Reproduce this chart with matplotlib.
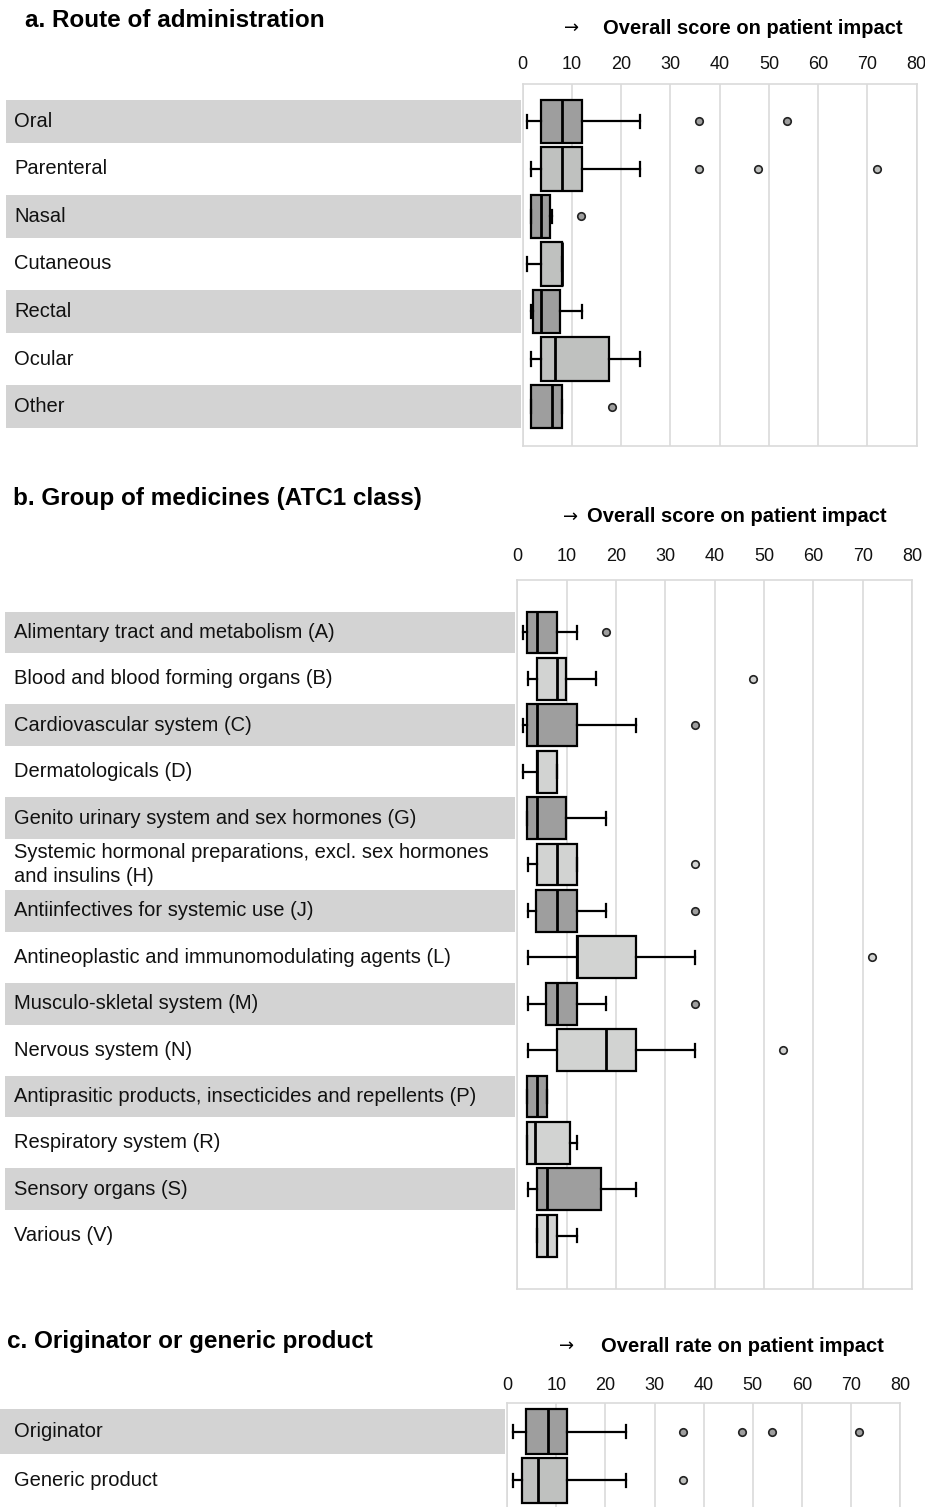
import matplotlib
matplotlib.use('Agg')
import matplotlib.pyplot as plt

plt.rcParams['font.family'] = ['Liberation Sans', 'DejaVu Sans']

# ---------------- data ----------------
route_labels = ['Oral', 'Parenteral', 'Nasal', 'Cutaneous', 'Rectal', 'Ocular', 'Other']
route_whislo = [0.8, 1.7, 1.6, 0.8, 1.7, 1.7, 1.6]
route_q1 = [3.65, 3.65, 1.6, 3.65, 2.0, 3.65, 1.6]
route_med = [8.0, 8.0, 3.65, 8.0, 3.65, 6.6, 5.9]
route_q3 = [12.0, 12.0, 5.6, 8.0, 7.6, 17.5, 8.0]
route_whishi = [23.8, 23.8, 5.9, 8.0, 12.0, 23.8, 8.0]
route_fliers = [[35.8, 53.6], [35.8, 47.8, 71.9], [11.8], [], [], [], [18.1]]

atc_labels = ['Alimentary tract and metabolism (A)',
              'Blood and blood forming organs (B)',
              'Cardiovascular system (C)',
              'Dermatologicals (D)',
              'Genito urinary system and sex hormones (G)',
              'Systemic hormonal preparations, excl. sex hormones\nand insulins (H)',
              'Antiinfectives for systemic use (J)',
              'Antineoplastic and immunomodulating agents (L)',
              'Musculo-skletal system (M)',
              'Nervous system (N)',
              'Antiprasitic products, insecticides and repellents (P)',
              'Respiratory system (R)',
              'Sensory organs (S)',
              'Various (V)']
atc_whislo = [1.1, 2.2, 1.1, 1.1, 2.0, 2.2, 2.2, 2.2, 2.2, 2.2, 2.0, 2.0, 2.2, 3.9]
atc_q1 = [2.0, 3.9, 2.0, 3.9, 2.0, 3.9, 3.8, 12.1, 5.9, 8.0, 2.0, 2.0, 3.9, 3.9]
atc_med = [3.9, 8.1, 3.9, 3.9, 3.9, 8.1, 8.1, 12.1, 8.1, 18.0, 3.9, 3.5, 6.0, 6.0]
atc_q3 = [8.1, 9.9, 12.2, 8.1, 9.9, 12.2, 12.2, 24.1, 12.2, 24.1, 6.1, 10.7, 17.0, 8.1]
atc_whishi = [12.2, 15.9, 24.1, 8.1, 18.0, 12.2, 18.0, 36.0, 18.0, 36.0, 6.1, 12.1, 24.1, 12.1]
atc_fliers = [[18.0], [47.8], [36.0], [], [], [36.0], [36.0], [71.8], [36.0], [53.8], [], [], [], []]

origin_labels = ['Originator', 'Generic product']
origin_whislo = [1.1, 1.1]
origin_q1 = [3.9, 2.9]
origin_med = [8.2, 6.3]
origin_q3 = [12.2, 12.2]
origin_whishi = [24.2, 24.2]
origin_fliers = [[35.7, 47.9, 54.0, 71.7], [35.7]]

xticks = [0, 10, 20, 30, 40, 50, 60, 70, 80]

# ---------------- style ----------------
DARK = '#9e9e9e'
BAND = '#d3d3d3'
GRID = '#dadada'

W, H = 925, 1507
fig = plt.figure(figsize=(W / 100, H / 100), dpi=100)


def rect(x0, y0, x1, y1):
    return [x0 / W, 1 - y1 / H, (x1 - x0) / W, (y1 - y0) / H]


def panel(box_px, band_x0, band_x1, ylim, labels, whislo, q1, med, q3, whishi,
          fliers, light, width, tick_pad):
    x0, y0, x1, y1 = box_px
    # label column with shaded bands
    axl = fig.add_axes(rect(0, y0, band_x1, y1))
    axl.set_xlim(0, band_x1)
    axl.set_ylim(*ylim)
    axl.axis('off')
    n = len(labels)
    for i in range(n):
        if i % 2 == 0:
            axl.barh(i, band_x1 - band_x0, left=band_x0, height=width,
                     color=BAND, linewidth=0)
        axl.text(14, i, labels[i], ha='left', va='center', fontsize=14.5,
                 linespacing=1.3, color='#111111')

    ax = fig.add_axes(rect(x0, y0, x1, y1))
    stats = []
    for i in range(n):
        stats.append(dict(whislo=whislo[i], q1=q1[i], med=med[i], q3=q3[i],
                          whishi=whishi[i], fliers=fliers[i]))
    res = ax.bxp(stats, positions=list(range(n)), widths=width,
                 orientation='horizontal', patch_artist=True,
                 capwidths=0.28,
                 boxprops=dict(edgecolor='black', linewidth=1.6),
                 medianprops=dict(color='black', linewidth=2.0),
                 whiskerprops=dict(color='black', linewidth=1.6),
                 capprops=dict(color='black', linewidth=1.6),
                 flierprops=dict(marker='o', markersize=5.4,
                                 markeredgecolor='#222222',
                                 markeredgewidth=1.2))
    for i in range(n):
        c = DARK if i % 2 == 0 else light
        res['boxes'][i].set_facecolor(c)
        res['fliers'][i].set_markerfacecolor(c)
    ax.set_xlim(0, 80)
    ax.set_ylim(*ylim)
    ax.set_yticks([])
    ax.set_xticks(xticks)
    ax.xaxis.set_ticks_position('top')
    ax.tick_params(axis='x', length=0, pad=tick_pad, labelsize=13,
                   labelcolor='#111111')
    ax.grid(axis='x', color=GRID, linewidth=1.2)
    ax.set_axisbelow(True)
    for s in ax.spines.values():
        s.set_color(GRID)
        s.set_linewidth(1.2)
    return ax


ARROW_FONT = ['DejaVu Sans']

# ---- panel a ----
panel((522.7, 84.3, 916.7, 446.0), 6, 520.7, (6.83, -0.78), route_labels,
      route_whislo, route_q1, route_med, route_q3, route_whishi, route_fliers,
      '#bfc1bf', 0.92, 8.0)
fig.text(25 / W, 1 - 20.5 / H, 'a. Route of administration', ha='left',
         va='center', fontsize=17.5, fontweight='bold')
fig.text(572 / W, 1 - 28 / H, '\u2192', ha='center', va='center', fontsize=13,
         family=ARROW_FONT)
fig.text(603 / W, 1 - 28.3 / H, 'Overall score on patient impact', ha='left',
         va='center', fontsize=14.5, fontweight='bold')

# ---- panel b ----
panel((517.3, 580.0, 912.0, 1289.0), 5, 515, (14.15, -1.13), atc_labels,
      atc_whislo, atc_q1, atc_med, atc_q3, atc_whishi, atc_fliers,
      '#d2d3d2', 0.9, 10.7)
fig.text(12.7 / W, 1 - 498 / H, 'b. Group of medicines (ATC1 class)', ha='left',
         va='center', fontsize=17.5, fontweight='bold')
fig.text(571 / W, 1 - 517 / H, '\u2192', ha='center', va='center', fontsize=13,
         family=ARROW_FONT)
fig.text(587 / W, 1 - 517 / H, 'Overall score on patient impact', ha='left',
         va='center', fontsize=14.5, fontweight='bold')

# ---- panel c ----
panel((507.3, 1403.3, 900.0, 1607.0), 0, 505, (3.59, -0.58), origin_labels,
      origin_whislo, origin_q1, origin_med, origin_q3, origin_whishi,
      origin_fliers, '#bfc1bf', 0.93, 6.5)
fig.text(7.3 / W, 1 - 1341.7 / H, 'c. Originator or generic product', ha='left',
         va='center', fontsize=17.5, fontweight='bold')
fig.text(567 / W, 1 - 1346 / H, '\u2192', ha='center', va='center', fontsize=13,
         family=ARROW_FONT)
fig.text(601 / W, 1 - 1346 / H, 'Overall rate on patient impact', ha='left',
         va='center', fontsize=14.5, fontweight='bold')

fig.savefig('out.png', dpi=100)
